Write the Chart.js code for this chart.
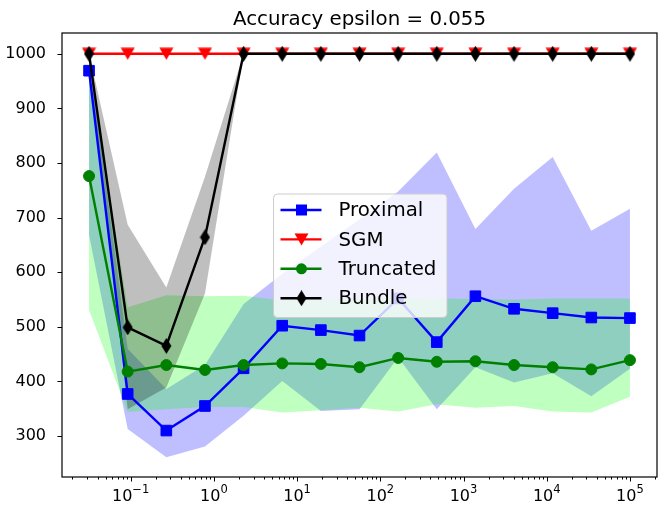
<!DOCTYPE html>
<html>
<head>
<meta charset="utf-8">
<script src="https://cdn.jsdelivr.net/npm/chart.js"></script>
<style>
  html, body { margin: 0; padding: 0; background: #fff; }
</style>
</head>
<body>
<canvas id="chart" width="658" height="506"></canvas>
<script>
// step sizes (log spaced)
var steps = [0.03162, 0.09211, 0.2683, 0.7814, 2.276, 6.629, 19.31, 56.23, 163.8, 477.1, 1389.5, 4047, 11788, 34333, 100000]

// mean iterations per method
var proximal = [969, 377, 310, 355, 424, 502, 494, 484, 552, 472, 556, 533, 525, 517, 516]
var sgm = [1000, 1000, 1000, 1000, 1000, 1000, 1000, 1000, 1000, 1000, 1000, 1000, 1000, 1000, 1000]
var truncated = [776, 418, 430, 421, 430, 433, 432, 426, 443, 436, 437, 430, 426, 422, 439]
var bundle = [1000, 499, 465, 664, 1000, 1000, 1000, 1000, 1000, 1000, 1000, 1000, 1000, 1000, 1000]

// shaded bands (lower / upper)
var proximalLow = [668, 313, 261, 281, 337, 401, 346, 349, 444, 349, 426, 398, 415, 373, 423]
var proximalUp = [995, 460, 386, 430, 542, 597, 647, 697, 748, 819, 679, 753, 811, 676, 716]
var truncatedLow = [531, 344, 349, 353, 353, 343, 347, 352, 345, 358, 352, 355, 345, 343, 372]
var truncatedUp = [975, 536, 558, 556, 557, 548, 550, 551, 553, 552, 551, 550, 552, 552, 552]
var bundleLow = [990, 349, 389, 561, 1000, 1000, 1000, 1000, 1000, 1000, 1000, 1000, 1000, 1000, 1000]
var bundleUp = [1000, 687, 572, 775, 1000, 1000, 1000, 1000, 1000, 1000, 1000, 1000, 1000, 1000, 1000]

var titleText = 'Accuracy epsilon = 0.055'
var FONT = '"DejaVu Sans", sans-serif'

function pts(arr) {
    return steps.map(function (s, i) { return { x: s, y: arr[i] } })
}

// marker images
function triangleDown(color) {
    var c = document.createElement('canvas')
    c.width = 15; c.height = 13
    var g = c.getContext('2d')
    g.fillStyle = color
    g.beginPath(); g.moveTo(0.5, 0.5); g.lineTo(14.5, 0.5); g.lineTo(7.5, 12.5); g.closePath(); g.fill()
    return c
}
function thinDiamond(color) {
    var c = document.createElement('canvas')
    c.width = 11; c.height = 16
    var g = c.getContext('2d')
    g.fillStyle = color
    g.beginPath(); g.moveTo(5.5, 0); g.lineTo(10.5, 8); g.lineTo(5.5, 16); g.lineTo(0.5, 8); g.closePath(); g.fill()
    return c
}
var triImg = triangleDown('#ff0000')
var diaImg = thinDiamond('#000000')

function line(label, data, color, style, radius, order) {
    return {
        label: label, data: pts(data), borderColor: color, backgroundColor: color,
        borderWidth: 2.4, pointStyle: style, pointRadius: radius, pointBorderWidth: 1,
        tension: 0, fill: false, order: order
    }
}
function band(data, order, fillTarget, color) {
    return {
        label: '', data: pts(data), borderColor: 'transparent', borderWidth: 0,
        pointRadius: 0, tension: 0, order: order,
        fill: fillTarget === null ? false : { target: fillTarget },
        backgroundColor: color
    }
}

var datasets = [
    line('Bundle', bundle, '#000000', diaImg, 6, 1),
    line('Truncated', truncated, '#008000', 'circle', 5.5, 2),
    line('SGM', sgm, '#ff0000', triImg, 6, 3),
    line('Proximal', proximal, '#0000ff', 'rect', 7.5, 4),
    band(bundleLow, 10, null, 'rgba(0,0,0,0.25)'),
    band(bundleUp, 10, 4, 'rgba(0,0,0,0.25)'),
    band(truncatedLow, 20, null, 'rgba(0,255,0,0.25)'),
    band(truncatedUp, 20, 6, 'rgba(0,255,0,0.25)'),
    band(proximalLow, 30, null, 'rgba(0,0,255,0.25)'),
    band(proximalUp, 30, 8, 'rgba(0,0,255,0.25)')
]

var legendItems = [
    { label: 'Proximal', color: '#0000ff', marker: 'rect' },
    { label: 'SGM', color: '#ff0000', marker: triImg },
    { label: 'Truncated', color: '#008000', marker: 'circle' },
    { label: 'Bundle', color: '#000000', marker: diaImg }
]

var expText = { '-1': '\u22121', '0': '0', '1': '1', '2': '2', '3': '3', '4': '4', '5': '5' }

function drawMarker(ctx, m, color, x, y) {
    ctx.fillStyle = color
    if (m === 'rect') {
        ctx.fillRect(x - 5.5, y - 5.5, 11, 11)
    } else if (m === 'circle') {
        ctx.beginPath(); ctx.arc(x, y, 5.5, 0, Math.PI * 2); ctx.fill()
    } else {
        ctx.drawImage(m, x - m.width / 2, y - m.height / 2)
    }
}

// frame, tick marks, x labels, title and legend
var decor = {
    id: 'decor',
    afterDraw: function (chart) {
        var ctx = chart.ctx, a = chart.chartArea
        var xs = chart.scales.x, ys = chart.scales.y
        ctx.save()
        ctx.strokeStyle = '#000'
        ctx.lineWidth = 1
        xs.ticks.forEach(function (t) {
            var px = Math.round(xs.getPixelForValue(t.value)) + 0.5
            ctx.beginPath(); ctx.moveTo(px, a.bottom); ctx.lineTo(px, a.bottom + (t.major ? 4.5 : 2.5)); ctx.stroke()
        })
        ys.ticks.forEach(function (t) {
            var py = Math.round(ys.getPixelForValue(t.value)) + 0.5
            ctx.beginPath(); ctx.moveTo(a.left, py); ctx.lineTo(a.left - 4.5, py); ctx.stroke()
        })
        ctx.lineWidth = 1.2
        ctx.strokeRect(a.left, a.top, a.right - a.left, a.bottom - a.top)

        // x tick labels: 10 with raised exponent
        ctx.fillStyle = '#000'
        ctx.textBaseline = 'alphabetic'
        ctx.textAlign = 'left'
        xs.ticks.forEach(function (t) {
            if (!t.major) return
            var e = String(Math.round(Math.log10(t.value)))
            var base = '10', ex = expText[e]
            ctx.font = '16px ' + FONT
            var wb = ctx.measureText(base).width
            ctx.font = '11.5px ' + FONT
            var we = ctx.measureText(ex).width
            var x0 = xs.getPixelForValue(t.value) - (wb + we) / 2
            ctx.font = '16px ' + FONT
            ctx.fillText(base, x0, a.bottom + 24)
            ctx.font = '11.5px ' + FONT
            ctx.fillText(ex, x0 + wb, a.bottom + 15.5)
        })

        // title
        ctx.font = '19.8px ' + FONT
        ctx.textAlign = 'center'
        ctx.fillText(titleText, (a.left + a.right) / 2, 25)

        // legend
        var lx = a.left + 211.5, ly = a.top + 161, lw = 173.5, lh = 123.5, r = 4
        ctx.beginPath()
        ctx.moveTo(lx + r, ly)
        ctx.arcTo(lx + lw, ly, lx + lw, ly + lh, r)
        ctx.arcTo(lx + lw, ly + lh, lx, ly + lh, r)
        ctx.arcTo(lx, ly + lh, lx, ly, r)
        ctx.arcTo(lx, ly, lx + lw, ly, r)
        ctx.closePath()
        ctx.fillStyle = 'rgba(255,255,255,0.8)'
        ctx.fill()
        ctx.strokeStyle = '#cccccc'
        ctx.lineWidth = 1
        ctx.stroke()
        ctx.font = '19.8px ' + FONT
        ctx.textAlign = 'left'
        ctx.textBaseline = 'middle'
        legendItems.forEach(function (it, k) {
            var y = ly + 16 + k * 29.4
            ctx.strokeStyle = it.color
            ctx.lineWidth = 2.4
            ctx.beginPath(); ctx.moveTo(lx + 7, y); ctx.lineTo(lx + 48, y); ctx.stroke()
            drawMarker(ctx, it.marker, it.color, lx + 28, y)
            ctx.fillStyle = '#000'
            ctx.fillText(it.label, lx + 65, y + 1)
        })
        ctx.restore()
    }
}

var ctx = document.getElementById('chart').getContext('2d')
var chart = new Chart(ctx, {
    type: 'line',
    data: { datasets: datasets },
    options: {
        responsive: false,
        animation: false,
        events: [],
        layout: { autoPadding: false, padding: { top: 33, right: 1, left: 0, bottom: 0 } },
        plugins: {
            legend: { display: false },
            title: { display: false },
            tooltip: { enabled: false },
            filler: { drawTime: 'beforeDatasetsDraw' }
        },
        scales: {
            x: {
                type: 'logarithmic',
                min: 0.01496,
                max: 211349,
                grid: { display: false },
                border: { display: false },
                afterBuildTicks: function (scale) {
                    var t = []
                    for (var e = -2; e <= 5; e++) {
                        for (var m = 1; m <= 9; m++) {
                            var v = m * Math.pow(10, e)
                            if (v >= scale.min && v <= scale.max) t.push({ value: v, major: m === 1 })
                        }
                    }
                    scale.ticks = t
                },
                afterFit: function (scale) {
                    scale.height = 29
                    scale.paddingLeft = 0
                    scale.paddingRight = 0
                },
                ticks: {
                    autoSkip: false,
                    maxRotation: 0,
                    callback: function () { return '' }
                }
            },
            y: {
                type: 'linear',
                min: 225,
                max: 1038,
                grid: { display: false },
                border: { display: false },
                afterFit: function (scale) {
                    scale.width = 62
                    scale.paddingTop = 0
                    scale.paddingBottom = 0
                },
                ticks: {
                    stepSize: 100,
                    includeBounds: false,
                    padding: 8,
                    color: '#000',
                    font: { family: FONT, size: 16 },
                    callback: function (v) { return String(v) }
                }
            }
        }
    },
    plugins: [decor]
})
</script>
</body>
</html>
